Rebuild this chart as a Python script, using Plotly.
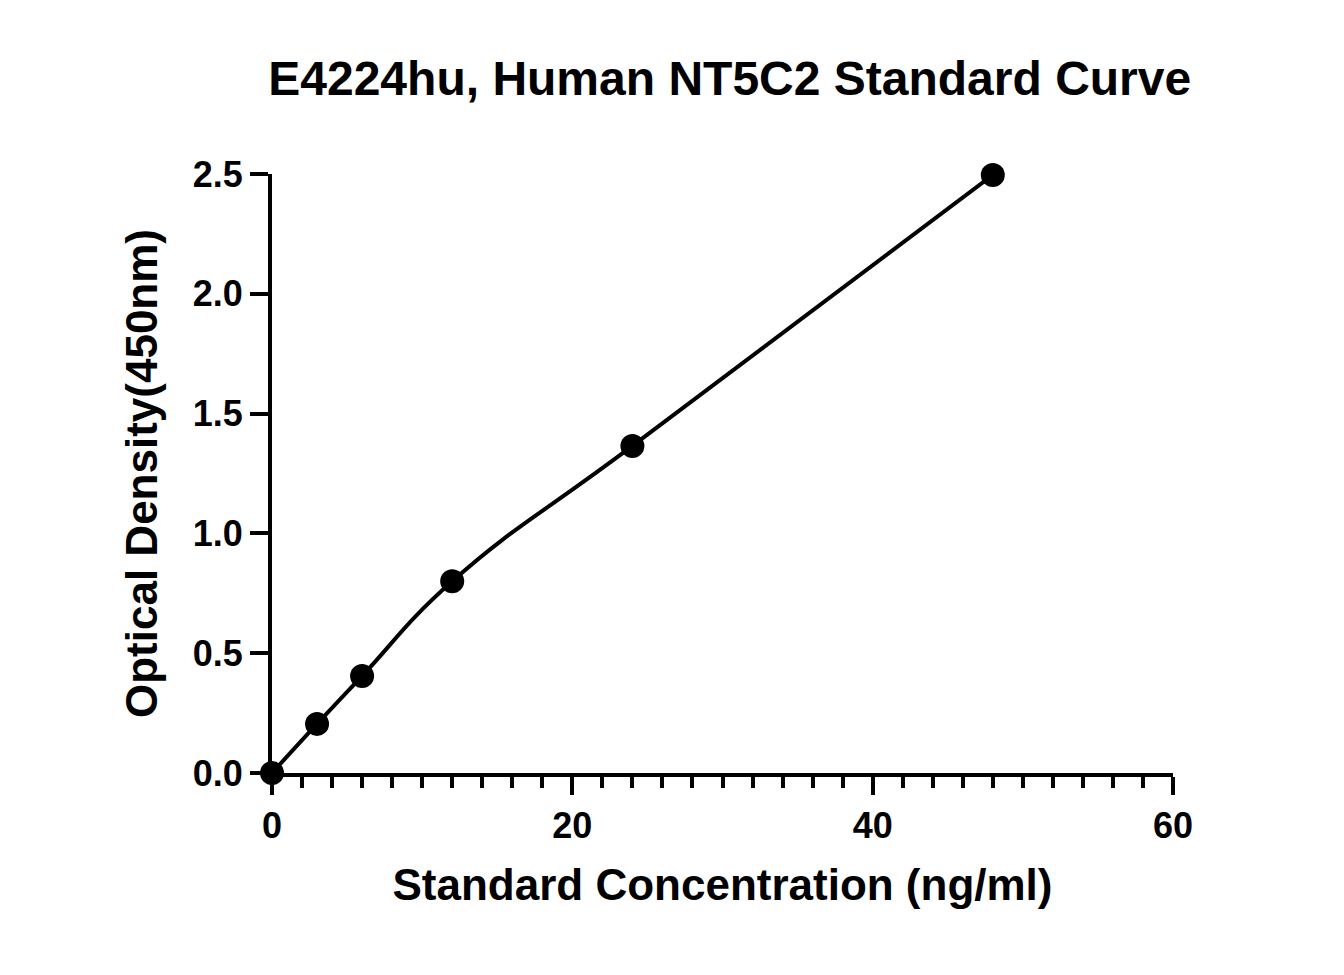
import plotly.graph_objects as go

conc = [0, 3, 6, 12, 24, 48]
od = [0.0, 0.205, 0.405, 0.80, 1.365, 2.496]

fig = go.Figure()
fig.add_trace(go.Scatter(x=conc, y=od, mode="lines", line=dict(color="black", width=4, shape="spline", smoothing=1.3), cliponaxis=False))
fig.add_trace(go.Scatter(x=conc, y=od, mode="markers", marker=dict(color="black", size=24), cliponaxis=False))

font_b = "Liberation Sans"
fig.update_layout(
    width=1344, height=975, showlegend=False,
    plot_bgcolor="white", paper_bgcolor="white",
    margin=dict(l=264, r=179, t=166, b=210),
    title=dict(text="<b>E4224hu, Human NT5C2 Standard Curve</b>", x=0.537, xanchor="center", y=0.928, yanchor="middle",
               font=dict(family=font_b, size=48, color="black")),
    xaxis=dict(range=[0, 60], dtick=20, showgrid=False, zeroline=False, showline=True, linecolor="black", linewidth=4,
               ticks="outside", ticklen=18, tickwidth=4, tickcolor="black",
               minor=dict(dtick=2, ticks="outside", ticklen=11, tickwidth=4, tickcolor="black"),
               tickfont=dict(family=font_b, size=36, color="black", weight="bold"),
               title=dict(text="<b>Standard Concentration (ng/ml)</b>", font=dict(family=font_b, size=44, color="black"), standoff=25)),
    yaxis=dict(range=[0, 2.5], dtick=0.5, tickformat=".1f", showgrid=False, zeroline=False, showline=True, linecolor="black", linewidth=4,
               ticks="outside", ticklen=18, tickwidth=4, tickcolor="black",
               tickfont=dict(family=font_b, size=36, color="black", weight="bold"),
               title=dict(text="<b>Optical Density(450nm)</b>", font=dict(family=font_b, size=44, color="black"), standoff=22)),
)
fig.write_html("out.html")
